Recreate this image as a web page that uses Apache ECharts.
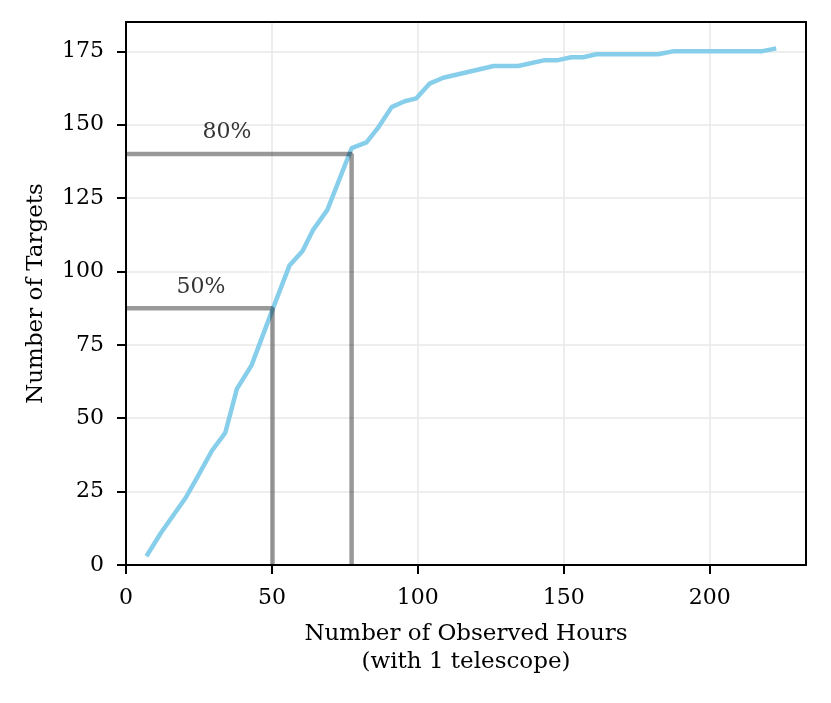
<!DOCTYPE html>
<html lang="en">
<head>
    <meta charset="UTF-8">
    <title>Targets vs Observed Hours</title>
    <script src="https://cdn.jsdelivr.net/npm/echarts@6/dist/echarts.min.js"></script>
</head>
<body style="margin:0">
<div id="chart-container" style="width: 831px;height: 703px;"></div>
</body>
<script type="text/javascript">
    // cumulative curve
    var hours = [7, 12, 20.5, 24.5, 29.5, 34, 38, 43, 50.2, 56, 60.5, 64, 69, 77.3, 82.4, 86.4,
        91, 95.5, 99.5, 104, 108.7, 126, 134.4, 143.5, 148, 152.6, 156.6, 161.2, 182.3, 187.4, 217.7, 222.8];
    var targets = [3, 11, 23, 30, 39, 45, 60, 68, 87, 102, 107, 114, 121, 142, 144, 149,
        156, 158, 159, 164, 166, 170, 170, 172, 172, 173, 173, 174, 174, 175, 175, 176];

    // percentage markers
    var markNames = ['50%', '80%'];
    var markHours = [50.2, 77.3];
    var markTargets = [87.5, 140];
    var markLabelHours = [25.7, 34.6];
    var markLabelTargets = [94.5, 147.5];

    // tick values
    var xTicks = [0, 50, 100, 150, 200];
    var yTicks = [0, 25, 50, 75, 100, 125, 150, 175];

    var serif = 'DejaVu Serif';

    var container = document.getElementById('chart-container');
    var myChart = echarts.init(container);

    var series = [];
    markNames.forEach(function (n, i) {
        series.push({
            name: n,
            type: 'line',
            data: [[0, markTargets[i]], [markHours[i], markTargets[i]], [markHours[i], 0]],
            symbol: 'none',
            lineStyle: {color: 'rgba(0,0,0,0.4)', width: 4.5},
            z: 3,
            animation: false
        });
    });
    series.push({
        name: 'curve',
        type: 'line',
        data: hours.map(function (h, i) {
            return [h, targets[i]];
        }),
        symbol: 'none',
        lineStyle: {color: '#87CEEB', width: 4.5},
        z: 2,
        animation: false
    });
    series.push({
        type: 'scatter',
        symbolSize: 0,
        data: markNames.map(function (n, i) {
            return {value: [markLabelHours[i], markLabelTargets[i]], name: n};
        }),
        label: {
            show: true,
            position: 'inside',
            formatter: '{b}',
            color: '#000',
            fontFamily: serif,
            fontSize: 22
        },
        animation: false
    });

    var tick = {show: true, length: 9, lineStyle: {color: '#000', width: 2}};
    var frameLine = {show: true, onZero: false, lineStyle: {color: '#000', width: 2}};

    var option = {
        grid: {left: 126, right: 25, top: 22, bottom: 138},
        xAxis: [{
            type: 'value',
            min: 0, max: 233, interval: 50,
            name: 'Number of Observed Hours\n(with 1 telescope)',
            nameLocation: 'middle',
            nameGap: 55,
            nameTextStyle: {fontFamily: serif, fontSize: 23, color: '#000', lineHeight: 28},
            axisLine: frameLine,
            axisTick: Object.assign({customValues: xTicks}, tick),
            axisLabel: {customValues: xTicks, fontFamily: serif, fontSize: 22, color: '#000', margin: 22},
            splitLine: {show: true, lineStyle: {color: '#e8e8e8', width: 1.5}}
        }, {
            type: 'value', position: 'top',
            min: 0, max: 233,
            axisLine: frameLine, axisTick: {show: false}, axisLabel: {show: false}, splitLine: {show: false}
        }],
        yAxis: [{
            type: 'value',
            min: 0, max: 185, interval: 25,
            name: 'Number of Targets',
            nameLocation: 'middle',
            nameGap: 78,
            nameTextStyle: {fontFamily: serif, fontSize: 23, color: '#000'},
            axisLine: frameLine,
            axisTick: Object.assign({customValues: yTicks}, tick),
            axisLabel: {customValues: yTicks, fontFamily: serif, fontSize: 22, color: '#000', margin: 22},
            splitLine: {show: true, lineStyle: {color: '#e8e8e8', width: 1.5}}
        }, {
            type: 'value', position: 'right',
            min: 0, max: 185,
            axisLine: frameLine, axisTick: {show: false}, axisLabel: {show: false}, splitLine: {show: false}
        }],
        series: series
    };

    myChart.setOption(option);
</script>
</html>
